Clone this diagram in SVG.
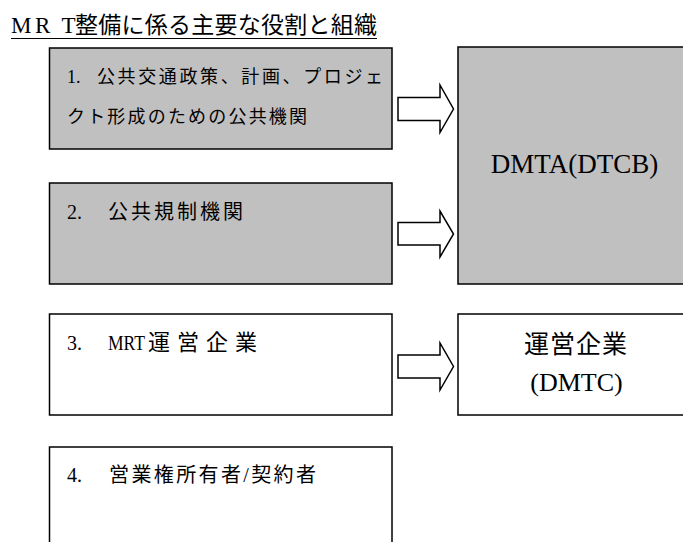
<svg xmlns="http://www.w3.org/2000/svg" width="683" height="542" viewBox="0 0 683 542">
<style>
  text { font-family: "Liberation Serif", "Noto Sans CJK JP", serif; fill: #000; }
  .lat { font-family: "Liberation Serif", serif; }
  .box { stroke: #000; stroke-width: 1.5; }
  .gray { fill: #c0c0c0; }
  .white { fill: #fff; }
  .arrow { fill: #fff; stroke: #000; stroke-width: 1.5; stroke-linejoin: miter; }
</style>
<rect width="683" height="542" fill="#fff"/>
<g id="title">
  <text y="33" font-size="23"><tspan class="lat" x="11">M</tspan><tspan class="lat" x="35">R</tspan><tspan class="lat" x="61.5">T</tspan><tspan x="75" textLength="302" lengthAdjust="spacing">整備に係る主要な役割と組織</tspan></text>
  <line x1="11" y1="38.5" x2="377" y2="38.5" stroke="#000" stroke-width="1.2"/>
</g>
<g id="node1">
  <rect class="box gray" x="49.5" y="48" width="342.5" height="101"/>
  <text y="83" font-size="18"><tspan class="lat" x="67">1.</tspan><tspan x="97" textLength="286" lengthAdjust="spacing">公共交通政策、計画、プロジェ</tspan></text>
  <text x="67" y="123" font-size="18" textLength="240" lengthAdjust="spacing">クト形成のための公共機関</text>
</g>
<g id="node2">
  <rect class="box gray" x="49.5" y="183" width="342.5" height="101"/>
  <text y="219" font-size="20"><tspan class="lat" x="67">2.</tspan><tspan x="108" textLength="135" lengthAdjust="spacing">公共規制機関</tspan></text>
</g>
<g id="node3">
  <rect class="box white" x="49.5" y="314" width="342.5" height="101"/>
  <text y="350" font-size="20"><tspan class="lat" x="67">3.</tspan><tspan class="lat" x="108" textLength="37" lengthAdjust="spacingAndGlyphs">MRT</tspan><tspan x="148" font-size="22" textLength="109" lengthAdjust="spacing">運営企業</tspan></text>
</g>
<g id="node4">
  <rect class="box white" x="49.5" y="447" width="342.5" height="110"/>
  <text y="481.5" font-size="20"><tspan class="lat" x="67">4.</tspan><tspan x="109" textLength="207" lengthAdjust="spacing">営業権所有者/契約者</tspan></text>
</g>
<g id="dmta">
  <rect class="box gray" x="458" y="47" width="240" height="237"/>
  <text class="lat" x="574.5" y="173" font-size="27" text-anchor="middle">DMTA(DTCB)</text>
</g>
<g id="dmtc">
  <rect class="box white" x="458" y="314" width="240" height="101"/>
  <text x="575.5" y="353" font-size="25" text-anchor="middle" textLength="103" lengthAdjust="spacing">運営企業</text>
  <text class="lat" x="576.5" y="391" font-size="26" text-anchor="middle">(DMTC)</text>
</g>
<g id="connectors">
  <polygon class="arrow" points="398,97.5 440,97.5 440,85 453.5,109 440,132.5 440,120.5 398,120.5"/>
  <polygon class="arrow" points="398,222.5 440,222.5 440,211 453.5,234 440,257 440,245 398,245"/>
  <polygon class="arrow" points="398,355 440,355 440,343 453.5,366.5 440,390 440,378 398,378"/>
</g>
</svg>
